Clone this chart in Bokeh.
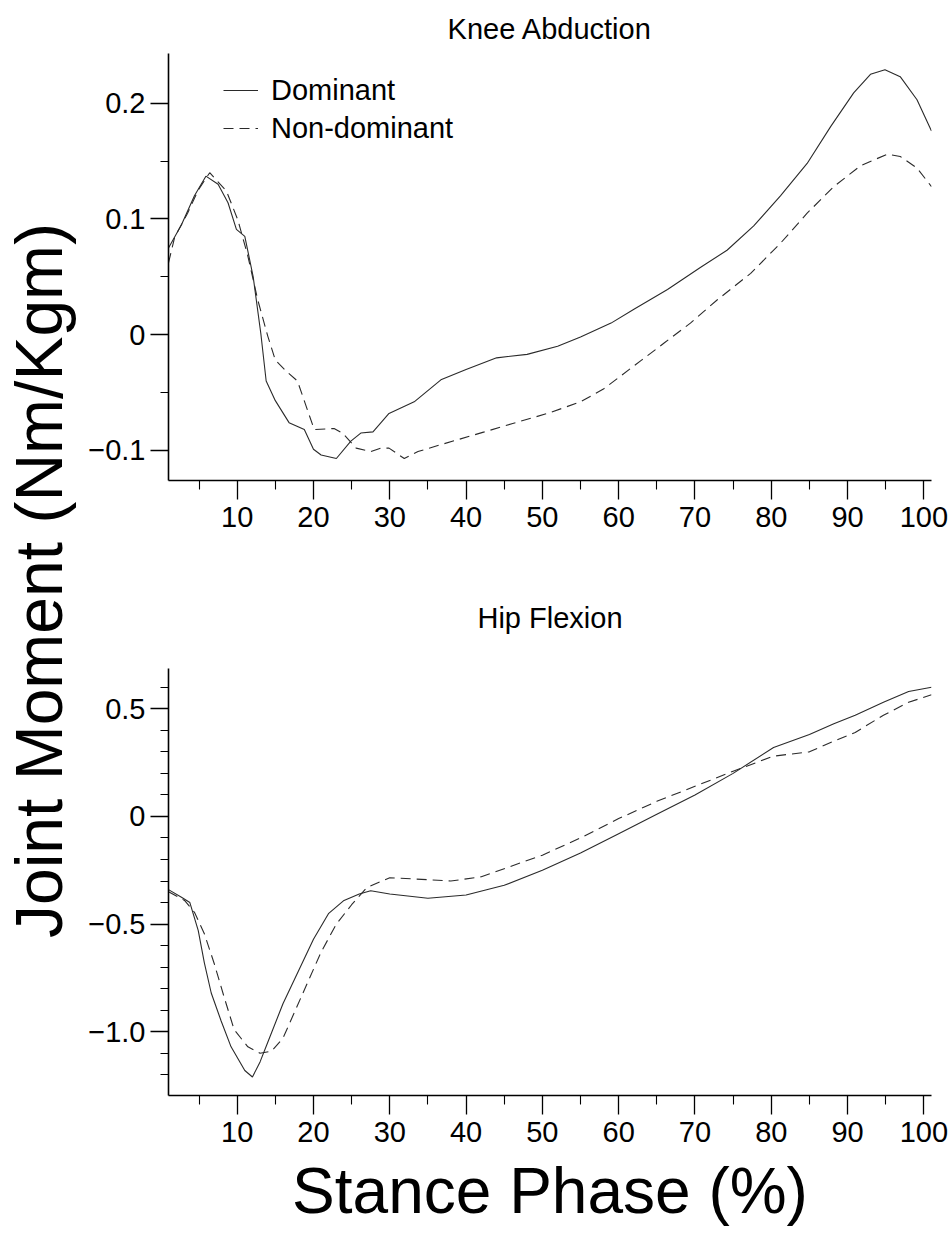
import math
from bokeh.plotting import figure
from bokeh.models import Range1d, FixedTicker, Legend, LegendItem
from bokeh.layouts import row, column
from bokeh.embed import file_html
from bokeh.resources import INLINE
from bokeh.core.properties import value

FONT = "Liberation Sans"

# ---------------- data ----------------
# Knee abduction (top panel)
KA_DOM_X = [1, 2.7, 4.4, 5.9, 7.5, 8.8, 9.9, 11.0, 12.1, 13.1, 13.8, 15, 16.8, 18.8, 20.0, 21.0, 23.0,
            24.9, 26.2, 27.8, 29.9, 33.2, 36.7, 40, 44, 48, 52, 55, 59, 62, 66.4, 70.7, 74.2, 77.7,
            81.2, 84.7, 87.8, 90.8, 93.0, 94.9, 96.9, 99.1, 101]
KA_DOM_Y = [0.075, 0.095, 0.120, 0.137, 0.130, 0.114, 0.091, 0.085, 0.050, 0.001, -0.040, -0.057,
            -0.076, -0.082, -0.099, -0.104, -0.107, -0.092, -0.085, -0.084, -0.068, -0.058, -0.039,
            -0.030, -0.020, -0.017, -0.010, -0.002, 0.010, 0.022, 0.039, 0.058, 0.073, 0.094, 0.120,
            0.148, 0.180, 0.209, 0.225, 0.229, 0.223, 0.203, 0.176]

KA_NON_X = [1, 1.8, 3.5, 4.9, 6.4, 8.6, 10.1, 11.4, 12.7, 14.0, 15, 16.5, 17.9, 20.1, 22.7, 23.8, 25.6,
            27.5, 28.8, 29.9, 31.9, 33.7, 36.7, 42.4, 46, 50.7, 55, 58, 60, 63, 66, 69.4, 72.9, 77.3,
            81.2, 84.7, 88.2, 91.7, 95.2, 96.9, 99.1, 101]
KA_NON_Y = [0.062, 0.084, 0.105, 0.125, 0.140, 0.124, 0.099, 0.068, 0.030, -0.001, -0.022, -0.032,
            -0.040, -0.082, -0.081, -0.085, -0.098, -0.101, -0.098, -0.098, -0.107, -0.101, -0.095,
            -0.084, -0.077, -0.068, -0.058, -0.047, -0.037, -0.022, -0.007, 0.010, 0.030, 0.053,
            0.079, 0.105, 0.128, 0.146, 0.156, 0.154, 0.144, 0.128]

# Hip flexion (bottom panel)
HF_DOM_X = [1, 2.7, 3.8, 4.9, 5.7, 6.6, 7.9, 9.2, 11.0, 12, 13, 14, 16, 18, 20, 22, 24, 26, 27.5, 30,
            35, 40, 45, 50, 55, 60, 65, 70, 75, 80.3, 85, 88.2, 91, 94.7, 98, 101]
HF_DOM_Y = [-0.34, -0.375, -0.40, -0.53, -0.68, -0.82, -0.95, -1.07, -1.18, -1.21, -1.14, -1.05,
            -0.87, -0.72, -0.57, -0.45, -0.39, -0.36, -0.345, -0.36, -0.38, -0.365, -0.32, -0.25,
            -0.17, -0.08, 0.01, 0.10, 0.20, 0.32, 0.38, 0.43, 0.47, 0.53, 0.58, 0.60]

HF_NON_X = [1, 3.1, 4.4, 5.7, 7.0, 8.3, 9.6, 11.4, 13.0, 14.5, 16, 17, 19, 21, 23, 25, 27, 30, 33, 38,
            42, 46, 50, 55, 60, 65, 70, 75, 80.3, 85, 88.2, 91, 94.7, 98, 101]
HF_NON_Y = [-0.35, -0.39, -0.445, -0.545, -0.684, -0.84, -0.99, -1.07, -1.10, -1.09, -1.03, -0.95,
            -0.79, -0.63, -0.50, -0.41, -0.33, -0.285, -0.29, -0.30, -0.28, -0.23, -0.18, -0.10,
            -0.01, 0.07, 0.14, 0.21, 0.28, 0.30, 0.35, 0.39, 0.47, 0.53, 0.565]

SERIES_NAMES = ["Dominant", "Non-dominant"]
PANEL_TITLES = ["Knee Abduction", "Hip Flexion"]
X_LABEL = "Stance Phase (%)"
Y_LABEL = "Joint Moment (Nm/Kgm)"

X_TICKS = [10, 20, 30, 40, 50, 60, 70, 80, 90, 100]
X_TICK_LABELS = ["10", "20", "30", "40", "50", "60", "70", "80", "90", "100"]
X_MINOR = [5, 15, 25, 35, 45, 55, 65, 75, 85, 95]

Y1_TICKS = [-0.1, 0, 0.1, 0.2]
Y1_TICK_LABELS = ["\u22120.1", "0", "0.1", "0.2"]
Y1_MINOR = [-0.05, 0.05, 0.15]

Y2_TICKS = [-1.0, -0.5, 0, 0.5]
Y2_TICK_LABELS = ["\u22121.0", "\u22120.5", "0", "0.5"]
Y2_MINOR = [-1.2, -1.1, -0.9, -0.8, -0.7, -0.6, -0.4, -0.3, -0.2, -0.1, 0.1, 0.2, 0.3, 0.4, 0.6]

LINE_COLOR = "#2a2a2a"
TXT = "29px"


def make_panel(title, height, top, bottom, yrange, yticks, ylabels, yminor,
               dom, non, title_standoff, legend=False, xlabel=None):
    p = figure(width=866, height=height, x_range=Range1d(1, 101), y_range=Range1d(*yrange),
               output_backend="svg", toolbar_location=None,
               min_border_left=82, min_border_right=20, min_border_top=top, min_border_bottom=bottom)
    p.grid.visible = False
    p.outline_line_color = None
    p.background_fill_color = "white"
    p.border_fill_color = "white"

    p.title.text = title
    p.title.align = "center"
    p.title.text_font = FONT
    p.title.text_font_size = TXT
    p.title.text_font_style = "normal"
    p.title.text_color = "black"
    p.title.standoff = title_standoff

    for ax in (p.xaxis[0], p.yaxis[0]):
        ax.axis_line_width = 1.6
        ax.axis_line_color = "black"
        ax.major_tick_line_color = "black"
        ax.minor_tick_line_color = "black"
        ax.major_tick_line_width = 1.3
        ax.minor_tick_line_width = 1.1
        ax.major_tick_in = 0
        ax.minor_tick_in = 0
        ax.major_label_text_font = FONT
        ax.major_label_text_font_size = TXT
        ax.major_label_text_color = "black"

    xa = p.xaxis[0]
    xa.ticker = FixedTicker(ticks=X_TICKS, minor_ticks=X_MINOR)
    xa.major_label_overrides = {t: l for t, l in zip(X_TICKS, X_TICK_LABELS)}
    xa.major_tick_out = 19
    xa.minor_tick_out = 9
    xa.major_label_standoff = 7
    if xlabel:
        xa.axis_label = xlabel
        xa.axis_label_text_font = FONT
        xa.axis_label_text_font_size = "64px"
        xa.axis_label_text_font_style = "normal"
        xa.axis_label_text_color = "black"
        xa.axis_label_standoff = 10

    ya = p.yaxis[0]
    ya.ticker = FixedTicker(ticks=yticks, minor_ticks=yminor)
    ya.major_label_overrides = {t: l for t, l in zip(yticks, ylabels)}
    ya.major_tick_out = 18
    ya.minor_tick_out = 8
    ya.major_label_standoff = 5

    r1 = p.line(dom[0], dom[1], line_color=LINE_COLOR, line_width=1.1)
    r2 = p.line(non[0], non[1], line_color=LINE_COLOR, line_width=1.1, line_dash="10 6")

    if legend:
        lg = Legend(items=[LegendItem(label=SERIES_NAMES[0], renderers=[r1]),
                           LegendItem(label=SERIES_NAMES[1], renderers=[r2])],
                    location=(55, 333))
        lg.border_line_color = None
        lg.background_fill_alpha = 0
        lg.label_text_font = FONT
        lg.label_text_font_size = TXT
        lg.label_text_color = "black"
        lg.glyph_width = 35
        lg.glyph_height = 38
        lg.label_height = 38
        lg.label_standoff = 13
        lg.spacing = 0
        lg.padding = 0
        lg.margin = 0
        p.add_layout(lg)
    return p


p1 = make_panel(PANEL_TITLES[0], 560, 53, 80, (-0.126, 0.243), Y1_TICKS, Y1_TICK_LABELS, Y1_MINOR,
                (KA_DOM_X, KA_DOM_Y), (KA_NON_X, KA_NON_Y), title_standoff=17, legend=True)
p2 = make_panel(PANEL_TITLES[1], 693, 108, 158, (-1.296, 0.687), Y2_TICKS, Y2_TICK_LABELS, Y2_MINOR,
                (HF_DOM_X, HF_DOM_Y), (HF_NON_X, HF_NON_Y), title_standoff=70, xlabel=X_LABEL)

lab = figure(width=85, height=1253, x_range=Range1d(0, 85), y_range=Range1d(0, 1253),
             output_backend="svg", toolbar_location=None, min_border=0)
lab.axis.visible = False
lab.grid.visible = False
lab.outline_line_color = None
lab.text(x=[38], y=[673], text=[Y_LABEL], angle=math.pi / 2, text_align="center",
         text_baseline="middle", text_font=value(FONT), text_font_size="66px", text_color="black")

layout = row(lab, column(p1, p2))
open("out.html", "w").write(file_html(layout, INLINE))
